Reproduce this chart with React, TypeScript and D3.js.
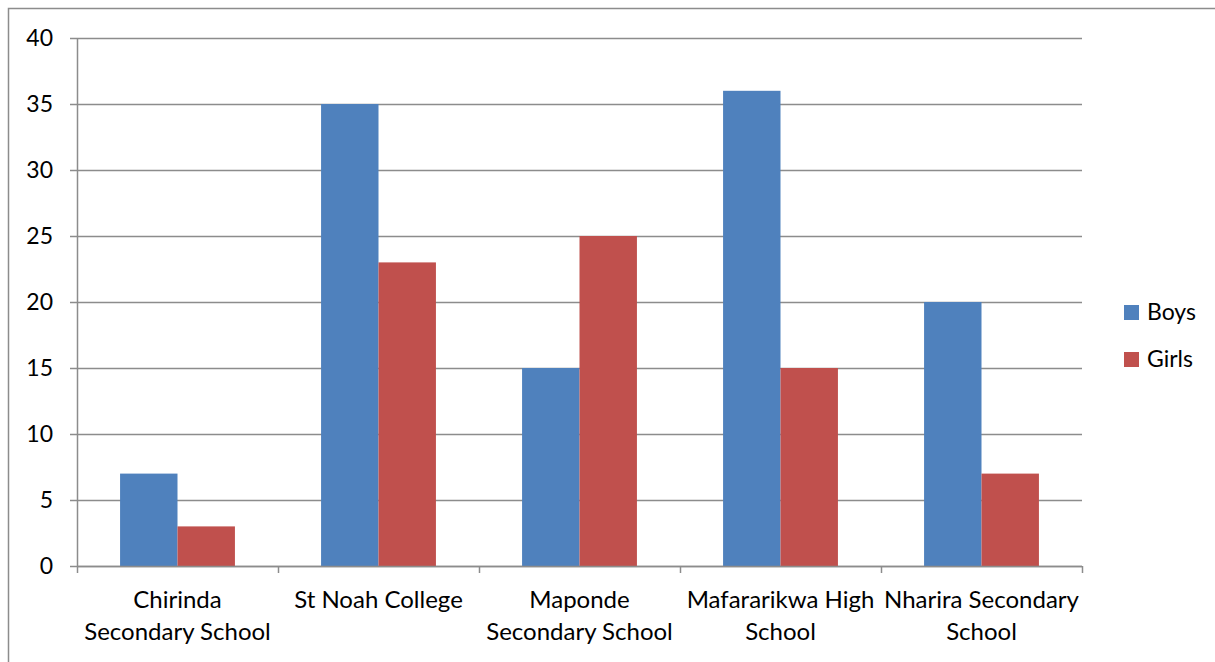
import React from "react";
import * as d3 from "d3";

const categories = [
  ["Chirinda", "Secondary School"],
  ["St Noah College"],
  ["Maponde", "Secondary School"],
  ["Mafararikwa High", "School"],
  ["Nharira Secondary", "School"],
];
const seriesNames = ["Boys", "Girls"];
const boys = [7, 35, 15, 36, 20];
const girls = [3, 23, 25, 15, 7];
const yTicks = [0, 5, 10, 15, 20, 25, 30, 35, 40];
const colors = ["#4F81BD", "#C0504D"];

const W = 1215;
const H = 662;
const FONT = "Lato, Carlito, 'Liberation Sans', sans-serif";
const FS = 23;

export default function App() {
  const left = 77, right = 1082, top = 38, bottom = 566;
  const y = d3.scaleLinear().domain([0, 40]).range([bottom, top]);
  const keys = categories.map((c) => c.join(" "));
  const x = d3.scaleBand().domain(keys).range([left, right]).padding(0);
  const xs = d3
    .scaleBand()
    .domain(seriesNames)
    .range([0, x.bandwidth()])
    .paddingInner(0)
    .paddingOuter(0.75);
  const values = [boys, girls];
  const grid = "#8c8c8c";

  return (
    <svg
      width={W}
      height={H}
      style={{ position: "absolute", left: 0, top: 0, display: "block" }}
      fontFamily={FONT}
    >
      <rect x={0} y={0} width={W} height={H} fill="#fff" />
      <rect x={8.5} y={8.5} width={W + 10} height={H + 10} fill="none" stroke="#8c8c8c" strokeWidth={1.5} />
      {yTicks.map((t) => (
        <g key={t}>
          <line x1={70} x2={right} y1={Math.round(y(t)) + 0.5} y2={Math.round(y(t)) + 0.5} stroke={grid} strokeWidth={1.5} />
          <text x={53} y={y(t)} dy="0.35em" textAnchor="end" fontSize={FS} fill="#000">
            {t}
          </text>
        </g>
      ))}
      {keys.map((k, i) =>
        seriesNames.map((s, j) => {
          const v = values[j][i];
          return (
            <rect
              key={k + s}
              x={(x(k) as number) + (xs(s) as number)}
              y={y(v)}
              width={xs.bandwidth()}
              height={y(0) - y(v)}
              fill={colors[j]}
            />
          );
        })
      )}
      <line x1={left + 0.5} x2={left + 0.5} y1={top} y2={bottom} stroke={grid} strokeWidth={1.5} />
      <line x1={left} x2={right} y1={bottom + 0.5} y2={bottom + 0.5} stroke={grid} strokeWidth={1.5} />
      {[...keys.map((k) => x(k) as number), right].map((px, i) => (
        <line key={i} x1={px + 0.5} x2={px + 0.5} y1={bottom} y2={bottom + 7} stroke={grid} strokeWidth={1.5} />
      ))}
      {categories.map((lines, i) => {
        const cx = (x(keys[i]) as number) + x.bandwidth() / 2;
        return (
          <text key={i} textAnchor="middle" fontSize={24} fill="#000">
            {lines.map((l, j) => (
              <tspan key={j} x={cx} y={608 + j * 32}>
                {l}
              </tspan>
            ))}
          </text>
        );
      })}
      {seriesNames.map((s, j) => (
        <g key={s}>
          <rect x={1124} y={305 + j * 47} width={15} height={15} fill={colors[j]} />
          <text x={1147} y={320 + j * 47} fontSize={FS} fill="#000">
            {s}
          </text>
        </g>
      ))}
    </svg>
  );
}
